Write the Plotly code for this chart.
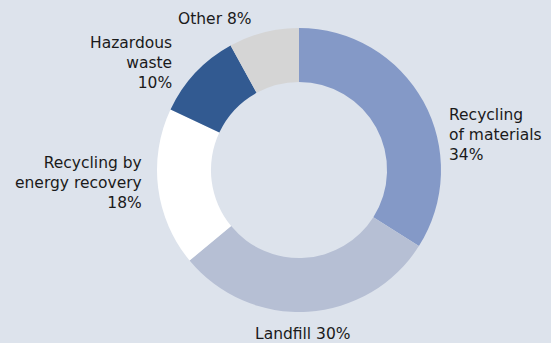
import plotly.graph_objects as go

categories = ["Recycling of materials", "Landfill", "Recycling by energy recovery",
              "Hazardous waste", "Other"]
shares = [34, 30, 18, 10, 8]
label_text = ["Recycling<br>of materials<br>34%", "Landfill 30%",
              "Recycling by<br>energy recovery<br>18%", "Hazardous<br>waste<br>10%",
              "Other 8%"]
slice_colors = ["#8499c7", "#b6bfd4", "#ffffff", "#325a91", "#d5d5d5"]

W, H = 551, 343
bg = "#dde3ec"
cx, cy, R = 299, 170, 142  # pixel centre and outer radius of the ring

fig = go.Figure(go.Pie(
    labels=categories,
    values=shares,
    hole=0.62,
    sort=False,
    direction="clockwise",
    rotation=0,
    marker=dict(colors=slice_colors, line=dict(width=0)),
    textinfo="none",
    hoverinfo="label+percent",
    domain=dict(x=[(cx - R) / W, (cx + R) / W],
                y=[(H - cy - R) / H, (H - cy + R) / H]),
    showlegend=False,
))

# label anchors in pixels: (x, y, xanchor, align)
anchors = [
    (447, 135, "left", "left"),
    (303, 334, "center", "center"),
    (144, 183, "right", "right"),
    (174, 63, "right", "right"),
    (254, 19, "right", "right"),
]
for txt, (x, y, xa, al) in zip(label_text, anchors):
    fig.add_annotation(
        x=x / W, y=1 - y / H, xref="paper", yref="paper",
        text=txt, showarrow=False, xanchor=xa, yanchor="middle", align=al,
        font=dict(family="DejaVu Sans", size=15.5, color="#1a1a1a"),
    )

fig.update_layout(
    width=W, height=H,
    margin=dict(l=0, r=0, t=0, b=0),
    paper_bgcolor=bg, plot_bgcolor=bg,
)

fig.write_html("out.html")
